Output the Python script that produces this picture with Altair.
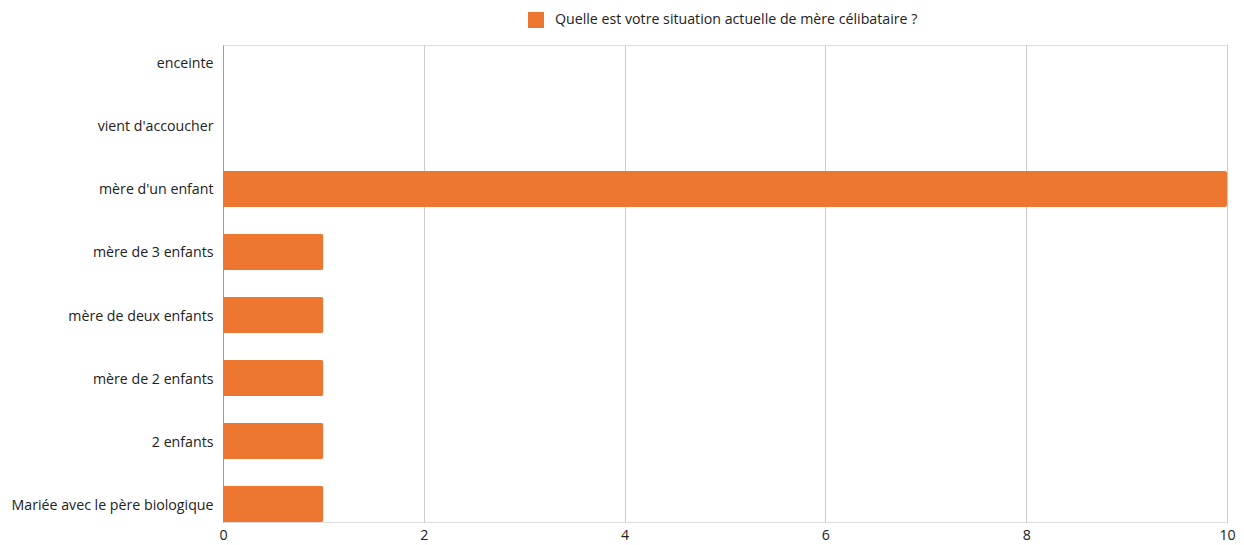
import altair as alt
import pandas as pd

categories = [
    "enceinte",
    "vient d'accoucher",
    "mère d'un enfant",
    "mère de 3 enfants",
    "mère de deux enfants",
    "mère de 2 enfants",
    "2 enfants",
    "Mariée avec le père biologique",
]
values = [0, 0, 10, 1, 1, 1, 1, 1]
series_name = "Quelle est votre situation actuelle de mère célibataire ?"
x_ticks = [0, 2, 4, 6, 8, 10]

df = pd.DataFrame({"cat": categories, "val": values, "series": [series_name] * len(categories)})

FONT = "Open Sans"
FS = 14.2

chart = (
    alt.Chart(df)
    .mark_bar(cornerRadiusEnd=2, color="#ED7731")
    .encode(
        y=alt.Y(
            "cat:N",
            sort=categories,
            title=None,
            scale=alt.Scale(paddingInner=0.43, paddingOuter=0.0),
            axis=alt.Axis(
                ticks=False,
                domain=True,
                domainColor="#9e9e9e",
                labelPadding=10,
                labelOffset=1.5,
                labelFontSize=FS,
                labelColor="#222222",
                labelFont=FONT,
                grid=False,
                labelLimit=400,
            ),
        ),
        x=alt.X(
            "val:Q",
            title=None,
            scale=alt.Scale(domain=[0, 10], nice=False),
            axis=alt.Axis(
                values=x_ticks,
                ticks=False,
                domain=False,
                grid=True,
                gridColor="#cccccc",
                labelPadding=6,
                labelFlush=False,
                labelFontSize=FS,
                labelColor="#222222",
                labelFont=FONT,
                orient="bottom",
            ),
        ),
        color=alt.Color(
            "series:N",
            scale=alt.Scale(domain=[series_name], range=["#ED7731"]),
            legend=alt.Legend(
                title=None,
                orient="none",
                legendX=305,
                legendY=-33,
                symbolType="square",
                symbolSize=256,
                symbolStrokeWidth=0,
                labelFontSize=FS,
                labelColor="#222222",
                labelFont=FONT,
                labelOffset=11,
                labelLimit=600,
            ),
        ),
    )
    .properties(
        width=1004,
        height=477,
        autosize=alt.AutoSizeParams(type="none"),
        padding={"left": 215, "top": 37, "right": 9, "bottom": 20},
    )
    .configure_view(stroke=None)
    .configure(font=FONT)
)

chart.save("out.html", embed_options={"renderer": "svg", "actions": False})
